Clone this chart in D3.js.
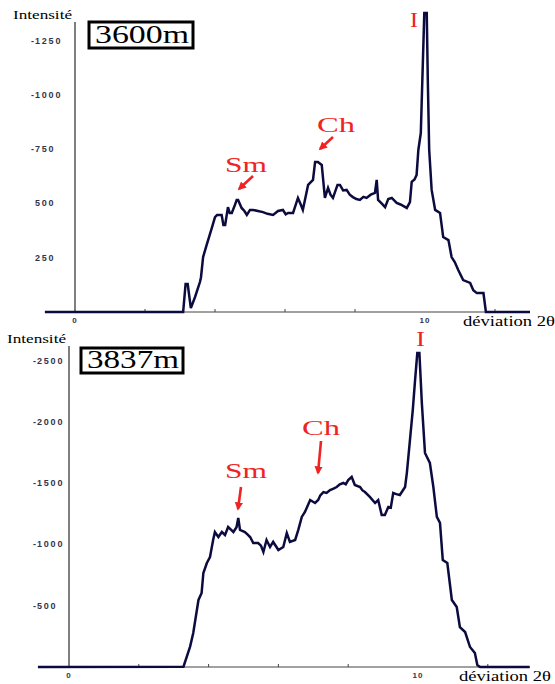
<!DOCTYPE html>
<html>
<head>
<meta charset="utf-8">
<script src="https://cdn.jsdelivr.net/npm/d3@7"></script>
<style>
  body { margin: 0; background: #fff; }
  svg { display: block; }
</style>
</head>
<body>
<svg id="chart" width="555" height="684"></svg>
<script>
// diffractogram at 3600 m : [deviation 2theta, intensity]
var top_curve = [
  [-0.86, 0], [3.09, 0], [3.16, 129], [3.22, 129], [3.31, 18], [3.43, 69], [3.57, 138],
  [3.6, 160], [3.66, 253], [3.76, 308], [3.91, 387], [4.0, 437], [4.06, 447], [4.19, 447],
  [4.24, 401], [4.29, 401], [4.37, 483], [4.42, 456], [4.48, 456], [4.57, 493], [4.62, 516],
  [4.66, 516], [4.76, 479], [4.84, 465], [4.91, 447], [5.0, 470], [5.09, 470], [5.37, 460],
  [5.5, 452], [5.66, 447], [5.8, 465], [5.94, 470], [6.02, 450], [6.09, 456], [6.23, 456],
  [6.37, 525], [6.45, 495], [6.51, 470], [6.66, 585], [6.8, 608], [6.86, 691], [6.94, 691],
  [7.05, 677], [7.14, 525], [7.23, 571], [7.3, 540], [7.37, 525], [7.5, 585], [7.57, 585],
  [7.66, 560], [7.76, 562], [7.85, 540], [7.94, 529], [8.04, 520], [8.14, 516], [8.24, 530],
  [8.33, 525], [8.45, 540], [8.57, 548], [8.62, 608], [8.66, 516], [8.76, 500], [8.86, 483],
  [8.95, 520], [9.05, 525], [9.19, 502], [9.3, 495], [9.48, 479], [9.57, 506], [9.62, 599],
  [9.7, 610], [9.76, 631], [9.81, 746], [9.88, 824], [9.93, 1100], [9.98, 1377], [10.05, 1377],
  [10.08, 1068], [10.12, 746], [10.19, 562], [10.29, 470], [10.43, 456], [10.52, 345],
  [10.67, 331], [10.76, 253], [10.85, 230], [10.95, 193], [11.09, 147], [11.29, 134],
  [11.38, 100], [11.48, 87], [11.67, 87], [11.74, 0], [13, 0]
];

// diffractogram at 3837 m
var bottom_curve = [
  [-0.89, 0], [3.28, 2], [3.47, 166], [3.56, 277], [3.71, 547], [3.8, 604], [3.85, 767],
  [3.95, 848], [4.04, 897], [4.13, 1036], [4.18, 1101], [4.28, 1060], [4.38, 1101],
  [4.47, 1077], [4.56, 1142], [4.64, 1120], [4.71, 1101], [4.8, 1140], [4.85, 1215],
  [4.9, 1118], [5.04, 1101], [5.12, 1080], [5.19, 1060], [5.28, 1011], [5.42, 1011],
  [5.5, 990], [5.57, 938], [5.66, 1036], [5.76, 979], [5.85, 1020], [6.0, 954], [6.14, 979],
  [6.24, 1093], [6.33, 1020], [6.48, 1036], [6.57, 1118], [6.67, 1224], [6.76, 1264],
  [6.91, 1362], [7.05, 1338], [7.14, 1362], [7.2, 1400], [7.29, 1427], [7.38, 1420],
  [7.48, 1444], [7.58, 1455], [7.67, 1468], [7.76, 1490], [7.86, 1501], [7.93, 1490],
  [8.0, 1525], [8.1, 1550], [8.19, 1485], [8.34, 1468], [8.41, 1440], [8.48, 1427],
  [8.62, 1387], [8.77, 1338], [8.86, 1362], [8.96, 1240], [9.05, 1240], [9.15, 1305],
  [9.22, 1300], [9.29, 1419], [9.38, 1410], [9.48, 1403], [9.63, 1468], [9.68, 1582],
  [9.77, 1852], [9.85, 2096], [9.91, 2317], [9.98, 2561], [10.04, 2561], [10.11, 2153],
  [10.2, 1746], [10.34, 1664], [10.44, 1468], [10.54, 1224], [10.63, 1175], [10.71, 873],
  [10.84, 848], [10.97, 547], [11.11, 489], [11.2, 326], [11.35, 285], [11.49, 163],
  [11.63, 114], [11.7, 16], [11.78, 0], [13.2, 0]
];

var top_ticks = [1250, 1000, 750, 500, 250];
var top_tick_labels = ["-1250", "-1000", "-750", "500", "250"];
var bottom_ticks = [2500, 2000, 1500, 1000, 500];
var bottom_tick_labels = ["-2500", "-2000", "-1500", "-1000", "-500"];
var x_minor_ticks = [2, 4, 6, 8, 12];
var x_labels = [0, 10];

// peak labels: [name, 2theta of peak]
var top_peaks = [["Sm", 4.66], ["Ch", 6.94], ["I", 10.0]];
var bottom_peaks = [["Sm", 4.85], ["Ch", 7.1], ["I", 10.0]];

var line_color = "#0b0b3f";
var red = "#ee2424";

var svg = d3.select("#chart");

svg.append("defs").append("marker")
    .attr("id", "arrowhead")
    .attr("viewBox", "0 0 10 10")
    .attr("refX", 8).attr("refY", 5)
    .attr("markerWidth", 3.2).attr("markerHeight", 3.2)
    .attr("orient", "auto")
  .append("path")
    .attr("d", "M0,0 L10,5 L0,10 z")
    .attr("fill", red);

function drawPanel(p) {
  var x = d3.scaleLinear().domain([0, 10]).range([p.x0, p.x10]);
  var y = d3.scaleLinear().domain([0, p.ymax]).range([p.y0, p.yTop]);
  var g = svg.append("g");

  // y axis line
  g.append("line")
    .attr("x1", x(0)).attr("x2", x(0))
    .attr("y1", p.axisTop).attr("y2", p.y0)
    .attr("stroke", "#555").attr("stroke-width", 1.5);

  // x axis line
  g.append("line")
    .attr("x1", x(p.xmin)).attr("x2", x(p.xmax))
    .attr("y1", p.y0).attr("y2", p.y0)
    .attr("stroke", "#444").attr("stroke-width", 1.2);

  g.selectAll(".minor")
    .data(x_minor_ticks)
    .join("line")
    .attr("x1", d => x(d)).attr("x2", d => x(d))
    .attr("y1", p.y0).attr("y2", p.y0 - 3)
    .attr("stroke", "#444");

  // y tick labels (minus sign and digits placed separately, like the original)
  var lab = g.selectAll(".ylab")
    .data(p.ticks)
    .join("g")
    .attr("transform", d => "translate(" + p.labX + "," + (y(d) + 3) + ")");
  lab.append("text")
    .attr("text-anchor", "end")
    .attr("x", -1)
    .attr("font-family", "Arial, 'Liberation Sans', sans-serif")
    .attr("font-size", 9).attr("font-weight", "bold")
    .attr("fill", "#34344a")
    .text((d, i) => p.labels[i][0] == "-" ? "-" : "");
  lab.append("text")
    .attr("text-anchor", "start")
    .attr("font-family", "Arial, 'Liberation Sans', sans-serif")
    .attr("font-size", 9).attr("font-weight", "bold")
    .attr("letter-spacing", 1.8)
    .attr("fill", "#34344a")
    .text((d, i) => p.labels[i].replace("-", ""));

  g.selectAll(".xlab")
    .data(x_labels)
    .join("text")
    .attr("x", d => x(d)).attr("y", p.y0 + 11)
    .attr("text-anchor", "middle")
    .attr("font-family", "Arial, 'Liberation Sans', sans-serif")
    .attr("font-size", 8).attr("font-weight", "bold").attr("letter-spacing", 1)
    .attr("fill", "#34344a")
    .text(d => d);

  g.append("text")
    .attr("x", p.x0 - 62).attr("y", p.axisTop - 3)
    .attr("font-family", "'Liberation Serif', 'DejaVu Serif', serif")
    .attr("font-size", 13)
    .attr("textLength", 59).attr("lengthAdjust", "spacingAndGlyphs")
    .text("Intensité");

  g.append("text")
    .attr("x", p.devX).attr("y", p.y0 + 14)
    .attr("font-family", "'Liberation Serif', 'DejaVu Serif', serif")
    .attr("font-size", 15)
    .attr("textLength", 92).attr("lengthAdjust", "spacingAndGlyphs")
    .text("déviation 2θ");

  // depth box
  g.append("rect")
    .attr("x", p.box[0]).attr("y", p.box[1])
    .attr("width", p.box[2]).attr("height", p.box[3])
    .attr("fill", "#fff").attr("stroke", "#000").attr("stroke-width", 3);
  g.append("text")
    .attr("x", p.box[0] + 6).attr("y", p.box[1] + p.box[3] - 5)
    .attr("font-family", "'Liberation Serif', 'DejaVu Serif', serif")
    .attr("font-size", 26)
    .attr("textLength", p.box[2] - 10).attr("lengthAdjust", "spacingAndGlyphs")
    .text(p.depth);

  // curve
  var line = d3.line().x(d => x(d[0])).y(d => y(d[1]));
  g.append("path")
    .attr("d", line(p.data))
    .attr("fill", "none")
    .attr("stroke", line_color)
    .attr("stroke-width", 2.5)
    .attr("stroke-linejoin", "miter");

  // peak labels and arrows
  p.peaks.forEach(function(pk, i) {
    var a = p.ann[i];
    g.append("text")
      .attr("x", a.tx).attr("y", a.ty)
      .attr("font-family", "'Liberation Serif', 'DejaVu Serif', serif")
      .attr("font-size", 22)
      .attr("fill", red)
      .attr("textLength", a.tw).attr("lengthAdjust", "spacingAndGlyphs")
      .text(pk[0]);
    if (a.arrow) {
      g.append("line")
        .attr("x1", a.arrow[0]).attr("y1", a.arrow[1])
        .attr("x2", a.arrow[2]).attr("y2", a.arrow[3])
        .attr("stroke", red).attr("stroke-width", 2.6)
        .attr("marker-end", "url(#arrowhead)");
    }
  });
}

drawPanel({
  data: top_curve, ticks: top_ticks, labels: top_tick_labels, peaks: top_peaks,
  ymax: 1250, x0: 75, x10: 425, y0: 312, yTop: 40.5, axisTop: 22,
  xmin: -0.86, xmax: 13, labX: 35, devX: 463,
  box: [89, 22, 104, 26], depth: "3600m",
  ann: [
    {tx: 225, ty: 172, tw: 42, arrow: [253, 176, 239, 189]},
    {tx: 317, ty: 132, tw: 38, arrow: [333, 137, 320, 149]},
    {tx: 410, ty: 27, tw: 8}
  ]
});

drawPanel({
  data: bottom_curve, ticks: bottom_ticks, labels: bottom_tick_labels, peaks: bottom_peaks,
  ymax: 2500, x0: 69, x10: 418, y0: 667, yTop: 360.5, axisTop: 346,
  xmin: -0.89, xmax: 13.2, labX: 37, devX: 459,
  box: [81, 348, 102, 25], depth: "3837m",
  ann: [
    {tx: 225, ty: 478, tw: 42, arrow: [241, 487, 238, 509]},
    {tx: 302, ty: 435, tw: 38, arrow: [321, 441, 318, 473]},
    {tx: 416, ty: 346, tw: 9}
  ]
});
</script>
</body>
</html>
